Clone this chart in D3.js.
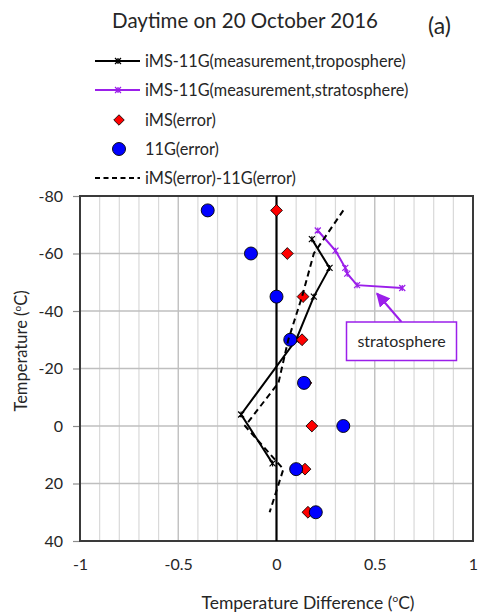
<!DOCTYPE html>
<html>
<head>
<meta charset="utf-8">
<script src="https://cdn.jsdelivr.net/npm/d3@7/dist/d3.min.js"></script>
<style>
  html, body { margin: 0; padding: 0; background: #fff; }
  svg { display: block; font-family: Lato, "Open Sans", sans-serif; }
</style>
</head>
<body>
<svg id="chart" width="479" height="613"></svg>
<script>
// Temperature levels (°C) at which the error estimates were evaluated
const errorLevels = [-75, -60, -45, -30, -15, 0, 15, 30];
// iMS sensor error (°C)
const imsError = [0, 0.055, 0.135, 0.13, 0.15, 0.18, 0.145, 0.16];
// 11G sensor error (°C)
const g11Error = [-0.35, -0.13, 0, 0.07, 0.14, 0.34, 0.10, 0.20];
// iMS(error) - 11G(error) (°C)
const errorDiff = [0.34, 0.19, 0.13, 0.06, 0.01, -0.16, 0.035, -0.035];

// Measured iMS-11G difference, troposphere
const tropoTemp = [-65, -55, -45, -30, -4, 13];
const tropoDiff = [0.18, 0.27, 0.19, 0.10, -0.18, -0.02];
// Measured iMS-11G difference, stratosphere
const stratoTemp = [-68, -61, -55, -53, -49, -48];
const stratoDiff = [0.21, 0.30, 0.35, 0.36, 0.41, 0.64];

// Axis ticks
const xTicks = [-1, -0.5, 0, 0.5, 1];
const xMinorTicks = d3.range(-9, 10).map(i => i / 10);
const yTicks = [-80, -60, -40, -20, 0, 20, 40];

const legendLabels = [
  "iMS-11G(measurement,troposphere)",
  "iMS-11G(measurement,stratosphere)",
  "iMS(error)",
  "11G(error)",
  "iMS(error)-11G(error)"
];

const svg = d3.select("#chart");
const plot = { left: 80, right: 473, top: 196, bottom: 541 };

const x = d3.scaleLinear().domain([-1, 1]).range([plot.left, plot.right]);
const y = d3.scaleLinear().domain([-80, 40]).range([plot.top, plot.bottom]);

const PURPLE = "#9b1fea";
const RED = "#ff0000";
const BLUE = "#0000ff";
const TEXT = "#262626";

// ---- gridlines ----
const grid = svg.append("g");
grid.selectAll("line.minor")
  .data(xMinorTicks.filter(v => Math.abs(v) > 1e-9 && Math.abs(Math.abs(v) - 0.5) > 1e-9))
  .join("line")
  .attr("x1", d => x(d)).attr("x2", d => x(d))
  .attr("y1", plot.top).attr("y2", plot.bottom)
  .attr("stroke", "#d9d9d9").attr("stroke-width", 1.2);
grid.selectAll("line.major")
  .data([-0.5, 0.5])
  .join("line")
  .attr("x1", d => x(d)).attr("x2", d => x(d))
  .attr("y1", plot.top).attr("y2", plot.bottom)
  .attr("stroke", "#bfbfbf").attr("stroke-width", 1.4);
grid.selectAll("line.h")
  .data(yTicks.slice(1, -1))
  .join("line")
  .attr("x1", plot.left).attr("x2", plot.right)
  .attr("y1", d => y(d)).attr("y2", d => y(d))
  .attr("stroke", "#bfbfbf").attr("stroke-width", 1.4);

// ---- axes ----
const yAxis = svg.append("g")
  .attr("transform", `translate(${plot.left},0)`)
  .call(d3.axisLeft(y).tickValues(yTicks).tickSize(7).tickPadding(10).tickFormat(d => String(d)));
yAxis.select(".domain").remove();
yAxis.selectAll(".tick line").attr("stroke", "#8c8c8c").attr("stroke-width", 1.2);
yAxis.selectAll(".tick text").attr("font-size", 16).attr("fill", TEXT)
  .attr("font-family", "Lato, sans-serif");

const xAxis = svg.append("g")
  .attr("transform", `translate(0,${plot.bottom})`)
  .call(d3.axisBottom(x).tickValues(xTicks).tickSize(0).tickPadding(18).tickFormat(d => String(d)));
xAxis.select(".domain").remove();
xAxis.selectAll(".tick text").attr("font-size", 16).attr("fill", TEXT)
  .attr("font-family", "Lato, sans-serif");

// plot frame
svg.append("rect")
  .attr("x", plot.left).attr("y", plot.top)
  .attr("width", plot.right - plot.left).attr("height", plot.bottom - plot.top)
  .attr("fill", "none").attr("stroke", "#3a3a3a").attr("stroke-width", 2);

// vertical axis line at zero difference
svg.append("line")
  .attr("x1", x(0)).attr("x2", x(0))
  .attr("y1", plot.top).attr("y2", plot.bottom)
  .attr("stroke", "#000").attr("stroke-width", 2.2);

// ---- series ----
const line = d3.line().x(d => x(d[1])).y(d => y(d[0]));

function starMarker(g, cx, cy, color, r) {
  g.append("path")
    .attr("d", `M${cx - r},${cy - r}L${cx + r},${cy + r}M${cx - r},${cy + r}L${cx + r},${cy - r}M${cx},${cy - r}L${cx},${cy + r}`)
    .attr("stroke", color).attr("stroke-width", 1.2).attr("fill", "none");
}

const tropo = d3.zip(tropoTemp, tropoDiff);
const strato = d3.zip(stratoTemp, stratoDiff);

const gTropo = svg.append("g");
gTropo.append("path").datum(tropo).attr("d", line)
  .attr("fill", "none").attr("stroke", "#000").attr("stroke-width", 2);
tropo.forEach(d => starMarker(gTropo, x(d[1]), y(d[0]), "#000", 3));

const gStrato = svg.append("g");
gStrato.append("path").datum(strato).attr("d", line)
  .attr("fill", "none").attr("stroke", PURPLE).attr("stroke-width", 2);
strato.forEach(d => starMarker(gStrato, x(d[1]), y(d[0]), PURPLE, 3));

svg.append("g").selectAll("path")
  .data(d3.zip(errorLevels, imsError))
  .join("path")
  .attr("transform", d => `translate(${x(d[1])},${y(d[0])}) rotate(45)`)
  .attr("d", d3.symbol().type(d3.symbolSquare).size(70))
  .attr("fill", RED).attr("stroke", "#000").attr("stroke-width", 0.8);

svg.append("g").selectAll("circle")
  .data(d3.zip(errorLevels, g11Error))
  .join("circle")
  .attr("cx", d => x(d[1])).attr("cy", d => y(d[0])).attr("r", 6.5)
  .attr("fill", BLUE).attr("stroke", "#000").attr("stroke-width", 0.9);

svg.append("path").datum(d3.zip(errorLevels, errorDiff)).attr("d", line)
  .attr("fill", "none").attr("stroke", "#000").attr("stroke-width", 2)
  .attr("stroke-dasharray", "6,4");

// ---- annotation ----
svg.append("defs").append("marker")
  .attr("id", "arrowHead").attr("viewBox", "0 0 10 10")
  .attr("refX", 9).attr("refY", 5)
  .attr("markerWidth", 7).attr("markerHeight", 7)
  .attr("markerUnits", "strokeWidth").attr("orient", "auto")
  .append("path").attr("d", "M0,0L10,5L0,10Z").attr("fill", PURPLE);

svg.append("line")
  .attr("x1", 401.5).attr("y1", 322).attr("x2", 377).attr("y2", 293.5)
  .attr("stroke", PURPLE).attr("stroke-width", 2)
  .attr("marker-end", "url(#arrowHead)");

svg.append("rect")
  .attr("x", 346.5).attr("y", 322).attr("width", 110).attr("height", 38.5)
  .attr("fill", "#fff").attr("stroke", PURPLE).attr("stroke-width", 1.5);
svg.append("text")
  .attr("x", 401.5).attr("y", 347).attr("text-anchor", "middle")
  .attr("font-size", 16).attr("fill", TEXT).text("stratosphere");

// ---- titles ----
svg.append("text")
  .attr("x", 245).attr("y", 28).attr("text-anchor", "middle")
  .attr("font-size", 20.5).attr("fill", TEXT).text("Daytime on 20 October 2016");
svg.append("text")
  .attr("x", 428).attr("y", 34)
  .attr("font-size", 23).attr("fill", TEXT).text("(a)");

const xTitle = svg.append("text")
  .attr("x", 308).attr("y", 609).attr("text-anchor", "middle")
  .attr("font-size", 17.5).attr("fill", TEXT);
xTitle.append("tspan").text("Temperature Difference (");
xTitle.append("tspan").attr("font-size", 10).attr("dy", -7).text("o");
xTitle.append("tspan").attr("dy", 7).text("C)");

const yTitle = svg.append("text")
  .attr("transform", "translate(27,351) rotate(-90)")
  .attr("text-anchor", "middle")
  .attr("font-size", 16.5).attr("fill", TEXT);
yTitle.append("tspan").text("Temperature (");
yTitle.append("tspan").attr("font-size", 10).attr("dy", -6).text("o");
yTitle.append("tspan").attr("dy", 6).text("C)");

// ---- legend ----
const legend = svg.append("g");
const rowY = [61, 90, 120, 149, 178];
legendLabels.forEach((label, i) => {
  const ly = rowY[i];
  if (i === 0 || i === 1 || i === 4) {
    const color = i === 1 ? PURPLE : "#000";
    legend.append("line")
      .attr("x1", 95).attr("x2", 140).attr("y1", ly).attr("y2", ly)
      .attr("stroke", color).attr("stroke-width", 2)
      .attr("stroke-dasharray", i === 4 ? "5,3.5" : null);
    if (i < 2) starMarker(legend, 118, ly, color, 3);
  } else if (i === 2) {
    legend.append("path")
      .attr("transform", `translate(119,${ly}) rotate(45)`)
      .attr("d", d3.symbol().type(d3.symbolSquare).size(55))
      .attr("fill", RED).attr("stroke", "#000").attr("stroke-width", 0.8);
  } else {
    legend.append("circle").attr("cx", 119).attr("cy", ly).attr("r", 6.5)
      .attr("fill", BLUE).attr("stroke", "#000").attr("stroke-width", 0.9);
  }
  legend.append("text")
    .attr("x", 145).attr("y", ly + 6)
    .attr("font-size", 16.3).attr("fill", TEXT).text(label);
});
</script>
</body>
</html>
